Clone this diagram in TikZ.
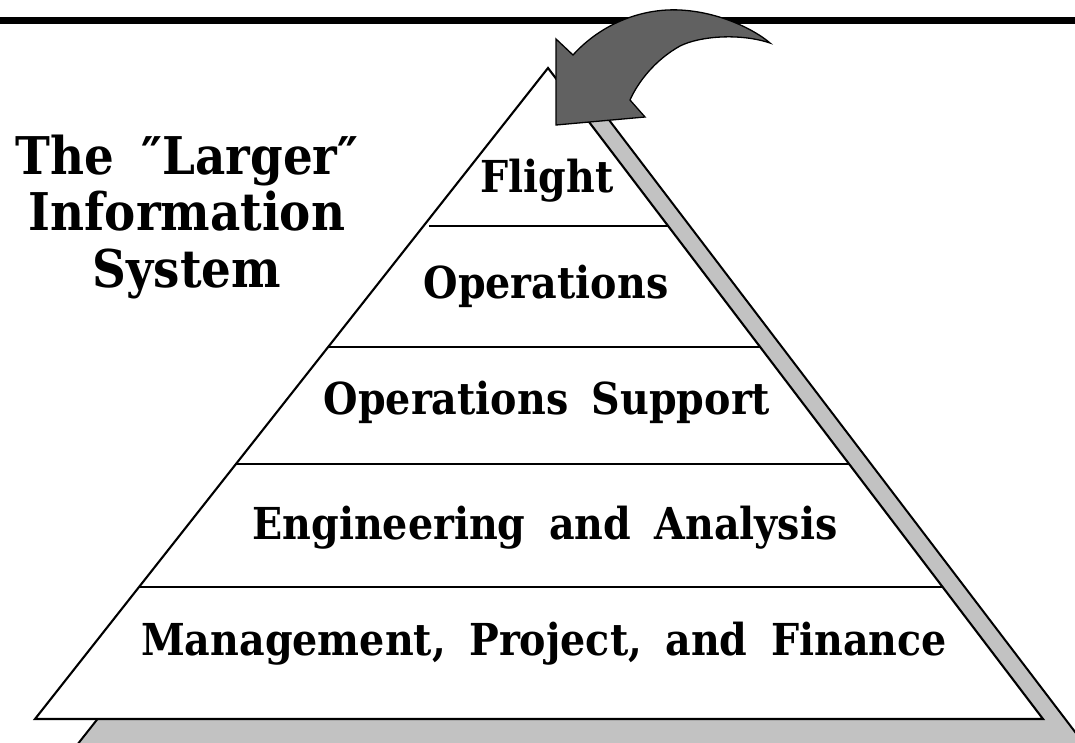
\documentclass[tikz,border=0pt]{standalone}
\usepackage{fontspec}
\usetikzlibrary{calc}
\newfontfamily\labfont{DejaVu Serif}[FakeStretch=0.9,WordSpace=1.7]
\tikzset{
  pyr/.style={draw=black,line width=2.1pt,fill=white,line join=miter},
  shade/.style={draw=black,line width=2pt,fill=black!24},
  tier/.style={draw=black,line width=2.1pt},
  lab/.style={anchor=base,inner sep=0pt,font=\labfont\bfseries\fontsize{44}{50}\selectfont},
  ttl/.style={anchor=base,inner sep=0pt,align=center,font=\labfont\bfseries\fontsize{52}{56.5}\selectfont},
  bigarrow/.style={draw=black,line width=1.3pt,fill=black!62,line join=miter},
  rule/.style={draw=black,line width=7pt}
}
\begin{document}
\begin{tikzpicture}[x=1pt,y=-1pt]
\path[use as bounding box] (0,0) rectangle (1075,742);
\begin{scope}
\clip (0,0) rectangle (1075,742);
% shadow
\path[shade] (590,95) -- (1085,745) -- (77,745) -- cycle;
% pyramid
\coordinate (A) at (548,68);
\coordinate (L) at (35,719);
\coordinate (R) at (1043,719);
\path[pyr] (A) -- (R) -- (L) -- cycle;
\draw[tier] ($(A)!0.2427!(L)+(6,0)$) -- ($(A)!0.2427!(R)$);
\draw[tier] ($(A)!0.4286!(L)$) -- ($(A)!0.4286!(R)$);
\draw[tier] ($(A)!0.6083!(L)$) -- ($(A)!0.6083!(R)$);
\draw[tier] ($(A)!0.7972!(L)$) -- ($(A)!0.7972!(R)$);
% labels
\node[lab] (flight) at (547,192) {Flight};
\node[lab] (ops) at (546,298) {Operations};
\node[lab] (opsup) at (547,414) {Operations Support};
\node[lab] (eng) at (545,539) {Engineering and Analysis};
\node[lab] (mgmt) at (544,655) {Management, Project, and Finance};
\node[ttl] (title) at (187,287) {The ″Larger″\\Information\\System};
% top rule
\draw[rule] (0,20.5) -- (1075,20.5);
% curved arrow
\path[bigarrow] (573,55) .. controls (600,25) and (640,8) .. (680,10)
  .. controls (720,12) and (755,30) .. (770,43)
  .. controls (740,33) and (700,36) .. (680,46)
  .. controls (655,60) and (638,82) .. (630,100)
  -- (645,117) -- (556,125) -- (556,39) -- cycle;
\end{scope}
\end{tikzpicture}
\end{document}
